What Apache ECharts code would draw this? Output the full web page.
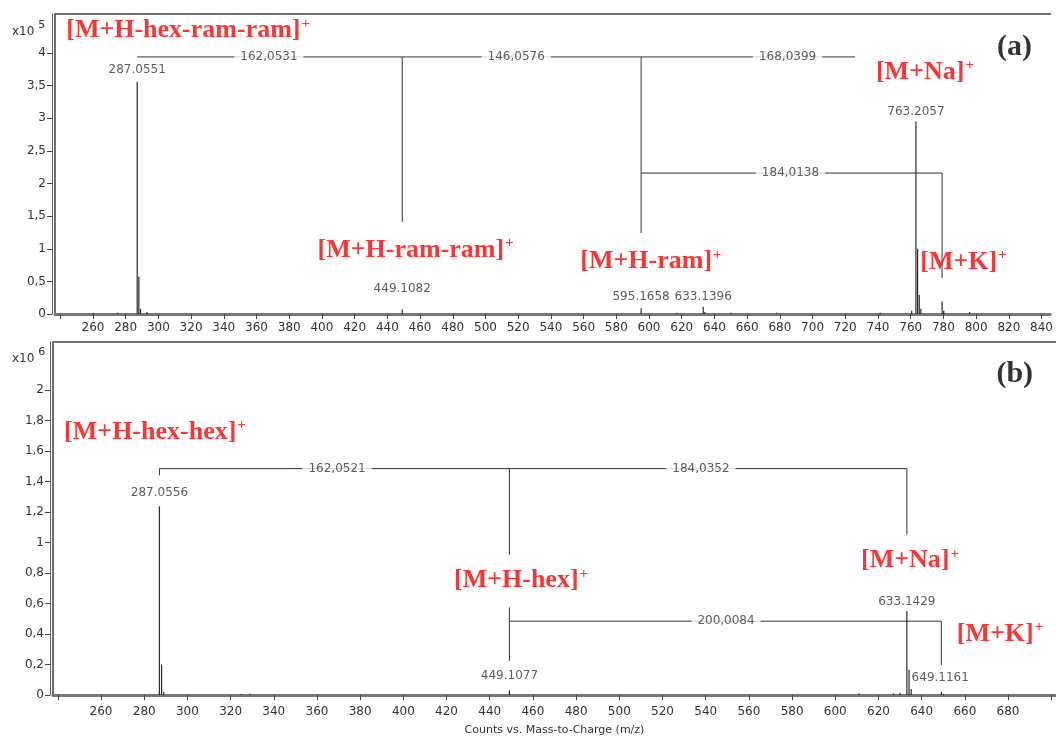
<!DOCTYPE html>
<html>
<head>
<meta charset="utf-8">
<script src="https://cdn.jsdelivr.net/npm/echarts@6/dist/echarts.min.js"></script>
<style>html,body{margin:0;padding:0;background:#fff;}#chart{width:1056px;height:737px;}</style>
</head>
<body>
<div id="chart"></div>
<script>
// ---------- Panel (a) data (intensity ×10^5) ----------
const topMz  = [260.1, 275.0, 287.0551, 288.06, 289.06, 293.0, 449.1082, 595.1658, 617.1, 633.1396, 634.1, 650.0, 678.0, 741.3, 760.6, 763.2057, 764.21, 765.21, 766.2, 779.18, 780.2, 796.0];
const topInt = [0.02, 0.02, 3.56, 0.57, 0.08, 0.03, 0.07, 0.09, 0.02, 0.11, 0.03, 0.02, 0.02, 0.02, 0.05, 2.95, 1.0, 0.29, 0.08, 0.19, 0.05, 0.03];
const topXTicks  = [240, 260, 280, 300, 320, 340, 360, 380, 400, 420, 440, 460, 480, 500, 520, 540, 560, 580, 600, 620, 640, 660, 680, 700, 720, 740, 760, 780, 800, 820, 840];
const topXLabels = [260, 280, 300, 320, 340, 360, 380, 400, 420, 440, 460, 480, 500, 520, 540, 560, 580, 600, 620, 640, 660, 680, 700, 720, 740, 760, 780, 800, 820, 840];
const topYTicks  = [0, 0.5, 1, 1.5, 2, 2.5, 3, 3.5, 4];
const topMassLabels = [[287.0551, 3.74, '287.0551'], [449.1082, 0.38, '449.1082'], [595.1658, 0.26, '595.1658'], [633.1396, 0.26, '633.1396'], [763.2057, 3.10, '763.2057']];
const topDiffLabels = [[367.6, 3.94, '162,0531'], [518.8, 3.94, '146,0576'], [684.7, 3.94, '168,0399'], [686.5, 2.16, '184,0138']];
const topSegments = [
  [[287.0551, 3.94], [726, 3.94]],
  [[449.1082, 3.94], [449.1082, 1.41]],
  [[595.1658, 3.94], [595.1658, 1.24]],
  [[595.1658, 2.16], [779.18, 2.16]],
  [[779.18, 2.16], [779.18, 0.55]]
];
const topIonLabels = [[318.2, 4.35, '[M+H-hex-ram-ram]'], [768.7, 3.71, '[M+Na]'], [457.3, 0.98, '[M+H-ram-ram]'], [601.2, 0.81, '[M+H-ram]'], [792.3, 0.80, '[M+K]']];
const topPanelTag = [[823.4, 4.09, '(a)']];

// ---------- Panel (b) data (intensity ×10^6) ----------
const botMz  = [287.0556, 288.06, 289.06, 325.0, 329.0, 449.1077, 611.0, 627.0, 630.0, 633.1429, 634.15, 635.15, 649.1161, 650.1];
const botInt = [1.237, 0.2, 0.02, 0.006, 0.008, 0.03, 0.01, 0.01, 0.015, 0.55, 0.165, 0.04, 0.02, 0.008];
const botXTicks  = [240, 260, 280, 300, 320, 340, 360, 380, 400, 420, 440, 460, 480, 500, 520, 540, 560, 580, 600, 620, 640, 660, 680, 700];
const botXLabels = [260, 280, 300, 320, 340, 360, 380, 400, 420, 440, 460, 480, 500, 520, 540, 560, 580, 600, 620, 640, 660, 680];
const botYTicks  = [0, 0.2, 0.4, 0.6, 0.8, 1, 1.2, 1.4, 1.6, 1.8, 2];
const botMassLabels = [[287.0556, 1.327, '287.0556'], [449.1077, 0.124, '449.1077'], [633.1429, 0.608, '633.1429'], [648.6, 0.111, '649.1161']];
const botDiffLabels = [[369.3, 1.484, '162,0521'], [537.8, 1.484, '184,0352'], [549.4, 0.484, '200,0084']];
const botSegments = [
  [[287.0556, 1.484], [633.1429, 1.484]],
  [[287.0556, 1.484], [287.0556, 1.44]],
  [[449.1077, 1.484], [449.1077, 0.92]],
  [[633.1429, 1.484], [633.1429, 1.05]],
  [[449.1077, 0.575], [449.1077, 0.224]],
  [[449.1077, 0.484], [649.1161, 0.484]],
  [[649.1161, 0.484], [649.1161, 0.196]]
];
const botIonLabels = [[285.0, 1.725, '[M+H-hex-hex]'], [454.5, 0.75, '[M+H-hex]'], [634.6, 0.88, '[M+Na]'], [676.3, 0.40, '[M+K]']];
const botPanelTag = [[683.1, 2.10, '(b)']];

const axisFont = 'DejaVu Sans';
const serif = 'Liberation Serif';
const frameColor = '#707070';
const fmtComma = v => String(+Number(v).toFixed(1)).replace('.', ',');

function xAxisDef(grid, min, max, ticks, labels, margin, extra) {
  return Object.assign({
    type: 'value', gridIndex: grid, min: min, max: max, position: 'bottom',
    splitLine: { show: false },
    axisLine: { show: true, onZero: false, lineStyle: { color: '#777', width: 3 } },
    axisTick: { show: true, length: 5, lineStyle: { color: '#444' }, customValues: ticks },
    axisLabel: { color: '#333', fontFamily: axisFont, fontSize: 12, margin: margin, customValues: labels }
  }, extra || {});
}
function frameX(grid, min, max) {
  return { type: 'value', gridIndex: grid, min: min, max: max, position: 'top',
    splitLine: { show: false }, axisTick: { show: false }, axisLabel: { show: false },
    axisLine: { show: true, onZero: false, lineStyle: { color: frameColor, width: 2 } } };
}
function yAxisDef(grid, max, ticks) {
  return {
    type: 'value', gridIndex: grid, min: 0, max: max, offset: 3, position: 'left',
    splitLine: { show: false },
    axisLine: { show: true, onZero: false, lineStyle: { color: '#666', width: 1 } },
    axisTick: { show: true, length: 5, lineStyle: { color: '#444' }, customValues: ticks },
    axisLabel: { color: '#333', fontFamily: axisFont, fontSize: 12, margin: 6, customValues: ticks, formatter: fmtComma }
  };
}
function frameY(grid, max) {
  return { type: 'value', gridIndex: grid, min: 0, max: max, position: 'left', offset: 0,
    splitLine: { show: false }, axisTick: { show: false }, axisLabel: { show: false },
    axisLine: { show: true, onZero: false, lineStyle: { color: frameColor, width: 2 } } };
}
function sticks(idx, mz, inten) {
  return { type: 'bar', xAxisIndex: idx, yAxisIndex: idx, barWidth: 1.2, silent: true,
    itemStyle: { color: '#2a2a2a' }, data: mz.map((m, i) => [m, inten[i]]), z: 3 };
}
function segs(idx, list) {
  return list.map(s => ({ type: 'line', xAxisIndex: idx, yAxisIndex: idx, data: s, symbol: 'none', silent: true,
    lineStyle: { color: '#333', width: 1 }, z: 4, animation: false }));
}
function textLayer(idx, list, labelOpt, z) {
  return { type: 'scatter', xAxisIndex: idx, yAxisIndex: idx, symbolSize: 0, silent: true, z: z, animation: false,
    data: list.map(d => ({ value: [d[0], d[1]], name: d[2] })),
    label: Object.assign({ show: true, position: 'inside', textBorderWidth: 0, formatter: p => p.name }, labelOpt) };
}
const plainLbl = { color: '#333', fontFamily: axisFont, fontSize: 12 };
const diffLbl = { color: '#333', fontFamily: axisFont, fontSize: 12, backgroundColor: '#fff', padding: [1, 6] };
const ionLbl = {
  formatter: p => '{m|' + p.name + '}{s|+}',
  rich: {
    m: { color: '#ff0000', fontFamily: serif, fontWeight: 'bold', fontSize: 26, lineHeight: 28, textBorderWidth: 0 },
    s: { color: '#ff0000', fontFamily: serif, fontWeight: 'bold', fontSize: 15, lineHeight: 15, verticalAlign: 'top', padding: [0, 0, 12, 1], textBorderWidth: 0 }
  }
};
const tagLbl = { color: '#000', fontFamily: serif, fontWeight: 'bold', fontSize: 30 };

const topXMin = 236.8, topXMax = 845.3, topYMax = 4.598;
const botXMin = 237.77, botXMax = 702.2, botYMax = 2.314;

const option = {
  backgroundColor: '#fff',
  animation: false,
  grid: [
    { left: 55, right: 0, top: 14, height: 300, show: false },
    { left: 53, right: 0, top: 342, height: 354, show: false }
  ],
  xAxis: [
    xAxisDef(0, topXMin, topXMax, topXTicks, topXLabels, 8),
    xAxisDef(1, botXMin, botXMax, botXTicks, botXLabels, 11, {
      name: 'Counts vs. Mass-to-Charge (m/z)', nameLocation: 'middle', nameGap: 30,
      nameTextStyle: { color: '#333', fontFamily: axisFont, fontSize: 11 }
    }),
    frameX(0, topXMin, topXMax),
    frameX(1, botXMin, botXMax)
  ],
  yAxis: [ yAxisDef(0, topYMax, topYTicks), yAxisDef(1, botYMax, botYTicks), frameY(0, topYMax), frameY(1, botYMax) ],
  graphic: [
    { type: 'text', left: 12, top: 20, style: { text: '{a|x10 }{b|5}', rich: { a: { fontFamily: axisFont, fontSize: 12, fill: '#333', lineHeight: 18, verticalAlign: 'bottom' }, b: { fontFamily: axisFont, fontSize: 11, fill: '#333', lineHeight: 18, verticalAlign: 'top' } } } },
    { type: 'text', left: 12, top: 347, style: { text: '{a|x10 }{b|6}', rich: { a: { fontFamily: axisFont, fontSize: 12, fill: '#333', lineHeight: 18, verticalAlign: 'bottom' }, b: { fontFamily: axisFont, fontSize: 11, fill: '#333', lineHeight: 18, verticalAlign: 'top' } } } }
  ],
  series: [].concat(
    [sticks(0, topMz, topInt)],
    segs(0, topSegments),
    [textLayer(0, topDiffLabels, diffLbl, 5), textLayer(0, topMassLabels, plainLbl, 5), textLayer(0, topIonLabels, ionLbl, 6), textLayer(0, topPanelTag, tagLbl, 6)],
    [sticks(1, botMz, botInt)],
    segs(1, botSegments),
    [textLayer(1, botDiffLabels, diffLbl, 5), textLayer(1, botMassLabels, plainLbl, 5), textLayer(1, botIonLabels, ionLbl, 6), textLayer(1, botPanelTag, tagLbl, 6)]
  )
};
const chart = echarts.init(document.getElementById('chart'), null, { renderer: 'canvas' });
chart.setOption(option);
</script>
</body>
</html>
